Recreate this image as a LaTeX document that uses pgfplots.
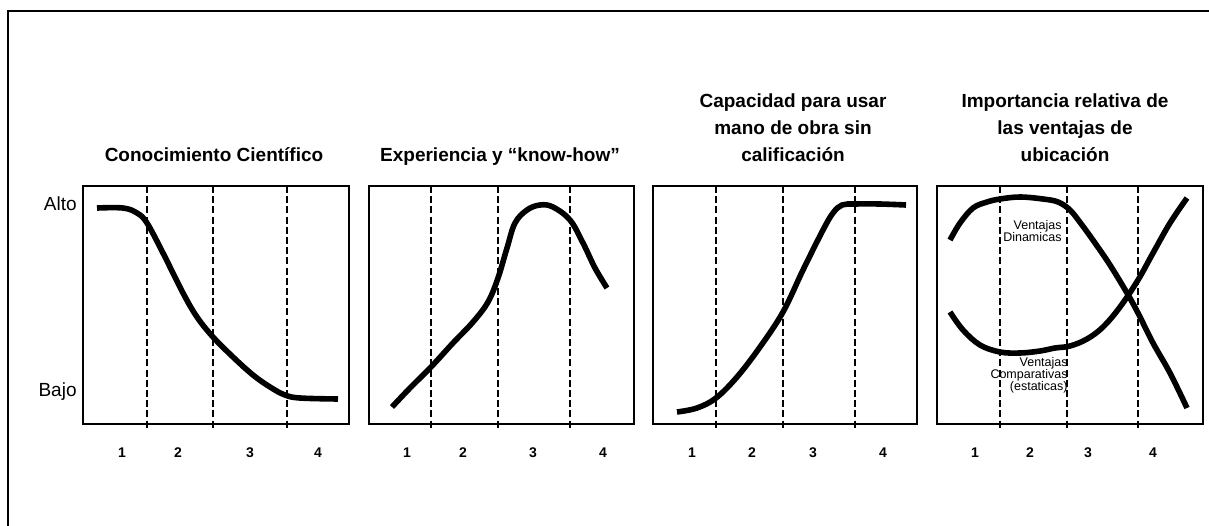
\documentclass[border=0pt]{standalone}
\usepackage{pgfplots}
\pgfplotsset{compat=1.18}
\usepackage{fontspec}
\setmainfont{Liberation Sans}

\pgfplotsset{
  panel/.style={
    scale only axis, height=119pt, anchor=center,
    ymin=0, ymax=238,
    axis line style={line width=1pt},
    major tick length=0pt,
    ytick=\empty,
    xticklabels={1,2,3,4},
    xticklabel style={font=\fontsize{7pt}{8pt}\selectfont\bfseries, anchor=center,
      text height=5pt, text depth=0pt, inner sep=0pt, yshift=-14pt},
    clip=false,
  },
  curve/.style={line width=2.8pt, smooth, tension=0.6, mark=none, black},
  divider/.style={line width=0.55pt, dash pattern=on 3.5pt off 1.6pt, mark=none, black},
}

\begin{document}
\begin{tikzpicture}[x=0.5pt, y=-0.5pt]
\path[use as bounding box] (0,0) rectangle (1209,525);
\fill[white] (0,0) rectangle (1209,525);
% outer frame
\draw[line width=1pt] (8,540) -- (8,10.5) -- (1220,10.5);

% ---------- Panel 1 ----------
\begin{axis}[panel, at={(108pt,-152.5pt)}, width=133pt, xmin=83, xmax=349,
  xtick={122,178,250,318},
  ytick={220.5,34.5}, yticklabels={Alto,Bajo},
  yticklabel style={font=\fontsize{9.5pt}{11pt}\selectfont, anchor=east,
    text height=6.8pt, text depth=0pt, inner sep=0pt, xshift=-3pt}]
\addplot[divider] coordinates {(147,238) (147,-4)};
\addplot[divider] coordinates {(213,238) (213,-4)};
\addplot[divider] coordinates {(287,238) (287,-4)};
\addplot[curve] coordinates {
 (97,216) (123,216) (137,211) (147,201) (163,171) (183,131) (197,107)
 (213,87) (233,67) (253,49) (270,37) (285,29) (300,26) (338,25)};
\end{axis}

% ---------- Panel 2 ----------
\begin{axis}[panel, at={(250.75pt,-152.5pt)}, width=132.5pt, xmin=369, xmax=634,
  xtick={407,463,533,603}]
\addplot[divider] coordinates {(431,238) (431,-4)};
\addplot[divider] coordinates {(498,238) (498,-4)};
\addplot[divider] coordinates {(570,238) (570,-4)};
\addplot[curve] coordinates {
 (392,17) (410,36) (431,57) (453,81) (473,102) (488,122) (498,146)
 (507,176) (515,201) (527,214) (540,219) (553,217) (570,204)
 (583,181) (595,156) (607,136)};
\end{axis}

% ---------- Panel 3 ----------
\begin{axis}[panel, at={(392.5pt,-152.5pt)}, width=132pt, xmin=653, xmax=917,
  xtick={692,752,813,883}]
\addplot[divider] coordinates {(716,238) (716,-4)};
\addplot[divider] coordinates {(783,238) (783,-4)};
\addplot[divider] coordinates {(855,238) (855,-4)};
\addplot[curve] coordinates {
 (677,12) (697,16) (716,26) (737,47) (760,77) (783,112) (803,154)
 (823,194) (833,211) (842,219) (855,220) (880,220) (906,219)};
\end{axis}

% ---------- Panel 4 ----------
\begin{axis}[panel, at={(535pt,-152.5pt)}, width=133pt, xmin=937, xmax=1203,
  xtick={975,1030,1088,1153}]
\addplot[divider] coordinates {(1000,238) (1000,-4)};
\addplot[divider] coordinates {(1067,238) (1067,-4)};
\addplot[divider] coordinates {(1138,238) (1138,-4)};
\addplot[curve] coordinates {
 (950,184) (960,201) (973,216) (987,222) (1000,225) (1020,227) (1043,225)
 (1058,222) (1070,214) (1082,199) (1095,181) (1110,159) (1127,131) (1138,111)
 (1153,81) (1170,51) (1187,16)};
\addplot[curve] coordinates {
 (950,112) (963,94) (980,79) (1000,72) (1020,71) (1040,73) (1055,76)
 (1070,78) (1087,85) (1103,97) (1120,117) (1138,144) (1153,171)
 (1170,201) (1187,226)};
\begin{scope}[every node/.style={font=\fontsize{6.25pt}{7pt}\selectfont, inner sep=0pt, anchor=base east}]
\node at (axis cs:1062,195) {Ventajas};
\node at (axis cs:1062,183) {Dinamicas};
\node at (axis cs:1068,58) {Ventajas};
\node at (axis cs:1068,46) {Comparativas};
\node at (axis cs:1068,34) {(estaticas)};
\end{scope}
\end{axis}

% ---------- Titles ----------
\begin{scope}[every node/.style={font=\fontsize{9.5pt}{11pt}\selectfont\bfseries, inner sep=0pt, anchor=base}]
\node at (214,161) {Conocimiento Científico};
\node at (500,161) {Experiencia y “know-how”};
\node at (793,107) {Capacidad para usar};
\node at (793,134) {mano de obra sin};
\node at (793,161) {calificación};
\node at (1065,107) {Importancia relativa de};
\node at (1065,134) {las ventajas de};
\node at (1065,161) {ubicación};
\end{scope}
\end{tikzpicture}
\end{document}
